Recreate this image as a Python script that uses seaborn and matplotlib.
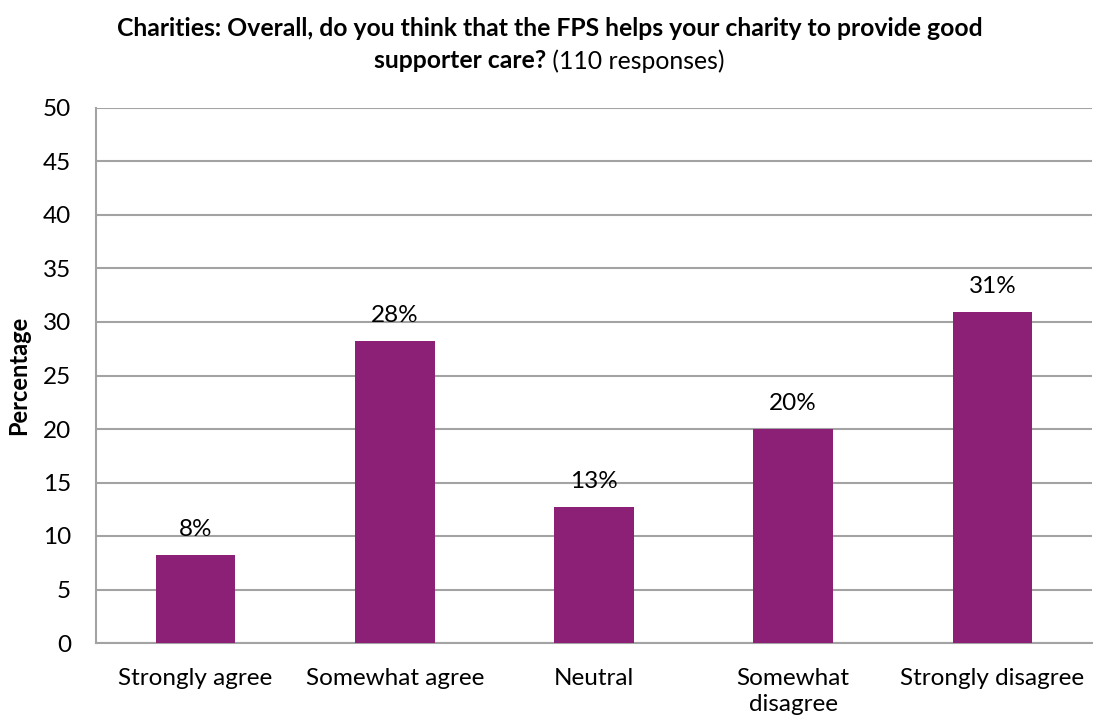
import matplotlib
matplotlib.use("Agg")
import matplotlib.pyplot as plt
import seaborn as sns
import pandas as pd

# Survey answers and response counts (110 responses in total)
categories = ["Strongly agree", "Somewhat agree", "Neutral", "Somewhat\ndisagree", "Strongly disagree"]
counts = [9, 31, 14, 22, 34]
total_responses = 110
percentages = [c / total_responses * 100 for c in counts]
y_ticks = [0, 5, 10, 15, 20, 25, 30, 35, 40, 45, 50]

title_bold_1 = "Charities: Overall, do you think that the FPS helps your charity to provide good"
title_bold_2 = "supporter care?"
title_regular_2 = " (110 responses)"

BAR_COLOR = "#8B2076"
GRID_COLOR = "#A3A3A3"
FONT = ["Lato", "DejaVu Sans"]

sns.set_theme(style="white")
plt.rcParams["font.family"] = FONT
plt.rcParams["text.color"] = "black"
plt.rcParams["axes.labelcolor"] = "black"

df = pd.DataFrame({"category": categories, "pct": percentages})

fig = plt.figure(figsize=(10.93, 7.2), dpi=100)
ax = fig.add_axes([96 / 1093, 77 / 720, 996 / 1093, 535 / 720])

sns.barplot(data=df, x="category", y="pct", color=BAR_COLOR, width=0.4,
            saturation=1, linewidth=0, ax=ax, zorder=3)

ax.set_ylim(0, 50)
ax.set_xlim(-0.5, len(categories) - 0.5)
ax.set_yticks(y_ticks)
ax.yaxis.grid(True, color=GRID_COLOR, linewidth=1.5, zorder=0)
ax.set_axisbelow(True)
for side in ["top", "right"]:
    ax.spines[side].set_visible(False)
for side in ["left", "bottom"]:
    ax.spines[side].set_color(GRID_COLOR)
    ax.spines[side].set_linewidth(1.5)

ax.tick_params(axis="both", length=0, labelsize=17.5, colors="black")
ax.tick_params(axis="x", pad=18)
ax.tick_params(axis="y", pad=18)
for lbl in ax.get_xticklabels():
    lbl.set_linespacing(1.3)
ax.set_xlabel("")
ax.set_ylabel("Percentage", fontsize=17, fontweight="bold", labelpad=9)

for i, v in enumerate(percentages):
    ax.annotate(f"{round(v)}%", xy=(i, v), xytext=(0, 11), textcoords="offset points",
                ha="center", va="bottom", fontsize=17.5)

# Two-line title with a bold part and a regular part on the second line
fig.text(550 / 1093, 1 - 29 / 720, title_bold_1, ha="center", va="center",
         fontsize=17.8, fontweight="bold")
renderer = fig.canvas.get_renderer()
t_b = fig.text(0, 1 - 61 / 720, title_bold_2, ha="left", va="center",
               fontsize=17.8, fontweight="bold")
t_r = fig.text(0, 1 - 61 / 720, title_regular_2, ha="left", va="center",
               fontsize=17.8)
wb = t_b.get_window_extent(renderer).width
wr = t_r.get_window_extent(renderer).width
fig_w = fig.bbox.width
x0 = 549 - (wb + wr) / 2
t_b.set_x(x0 / fig_w)
t_r.set_x((x0 + wb) / fig_w)

fig.savefig("out.png", dpi=100)
